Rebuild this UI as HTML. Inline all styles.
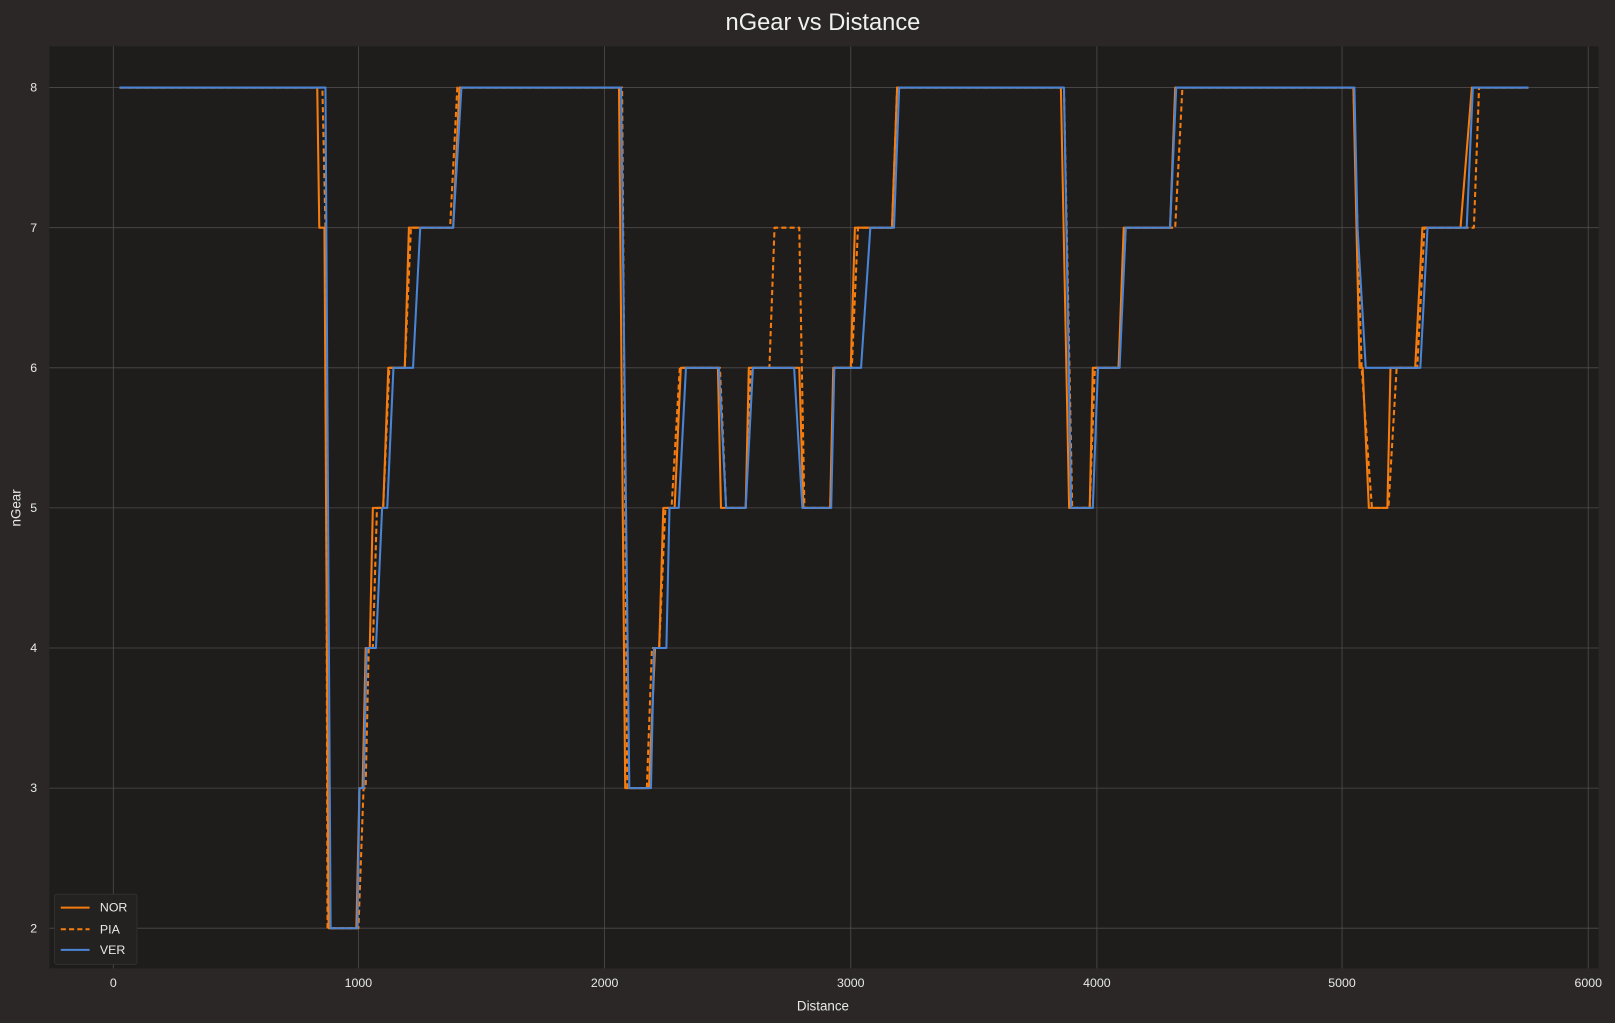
<!DOCTYPE html>
<html><head><meta charset="utf-8"><style>
html,body{margin:0;padding:0;background:#2a2726;}
svg{display:block;font-family:"Liberation Sans","DejaVu Sans",sans-serif;}
</style></head><body>
<svg width="1615" height="1023" viewBox="0 0 1568 993" preserveAspectRatio="none">
<rect x="0" y="0" width="1568" height="993" fill="#2a2726"/>
<text x="799" y="29" fill="#f0f0f0" font-size="23" text-anchor="middle">nGear vs Distance</text>
<rect x="48" y="45" width="1504" height="895" fill="#1e1d1c"/>
<g stroke="#4e4c4a" stroke-width="0.8">
<line x1="110" y1="45" x2="110" y2="940"/><line x1="348" y1="45" x2="348" y2="940"/>
<line x1="587" y1="45" x2="587" y2="940"/><line x1="826" y1="45" x2="826" y2="940"/>
<line x1="1065" y1="45" x2="1065" y2="940"/><line x1="1303" y1="45" x2="1303" y2="940"/>
<line x1="1542" y1="45" x2="1542" y2="940"/>
<line x1="48" y1="85" x2="1552" y2="85"/><line x1="48" y1="221" x2="1552" y2="221"/>
<line x1="48" y1="357" x2="1552" y2="357"/><line x1="48" y1="493" x2="1552" y2="493"/>
<line x1="48" y1="629" x2="1552" y2="629"/><line x1="48" y1="765" x2="1552" y2="765"/>
<line x1="48" y1="901" x2="1552" y2="901"/>
</g>
<g fill="#e8e8e8" font-size="12" text-anchor="middle">
<text x="110" y="958">0</text><text x="348" y="958">1000</text><text x="587" y="958">2000</text>
<text x="826" y="958">3000</text><text x="1065" y="958">4000</text><text x="1303" y="958">5000</text>
<text x="1542" y="958">6000</text>
<text x="799" y="981" font-size="13">Distance</text>
</g>
<g fill="#e8e8e8" font-size="12" text-anchor="end">
<text x="36" y="89">8</text><text x="36" y="225">7</text><text x="36" y="361">6</text>
<text x="36" y="497">5</text><text x="36" y="633">4</text><text x="36" y="769">3</text>
<text x="36" y="905">2</text>
</g>
<text x="20" y="493" fill="#e8e8e8" font-size="13" text-anchor="middle" transform="rotate(-90 20 493)">nGear</text>
<g fill="none" stroke-width="2" stroke-linejoin="round">
<polyline stroke="#f57c0f" points="116,85 308,85 310,221 315,221 319,901 346,901 349,765 352,765 355,629 359,629 362,493 372,493 377,357 393,357 397,221 440,221 446,85 601,85 607,765 630,765 636,629 640,629 644,493 655,493 661,357 697,357 700,493 724,493 727,357 776,357 780,493 806,493 809,357 826,357 830,221 866,221 871,85 1030,85 1038,493 1058,493 1061,357 1086,357 1091,221 1136,221 1141,85 1314,85 1317,221 1320,357 1323,357 1329,493 1347,493 1350,357 1374,357 1381,221 1418,221 1429,85 1484,85"/>
<polyline stroke="#f57c0f" stroke-dasharray="5,3" points="116,85 313,85 316,221 318,901 348,901 353,765 355,765 358,629 362,629 366,493 372,493 378,357 393,357 399,221 437,221 444,85 604,85 609,765 628,765 633,629 640,629 646,493 652,493 660,357 699,357 705,493 724,493 729,357 747,357 752,221 776,221 781,493 806,493 810,357 827,357 833,221 866,221 871,85 1033,85 1041,493 1058,493 1063,357 1086,357 1093,221 1141,221 1148,85 1314,85 1318,221 1322,357 1332,493 1348,493 1356,357 1376,357 1383,221 1431,221 1436,85 1484,85"/>
<polyline stroke="#4a84d4" points="116,85 316,85 321,901 347,901 349,765 353,765 356,629 365,629 371,493 376,493 382,357 401,357 408,221 440,221 448,85 603,85 611,765 632,765 635,629 647,629 650,493 659,493 666,357 698,357 705,493 724,493 731,357 771,357 779,493 807,493 810,357 836,357 845,221 868,221 873,85 1033,85 1040,493 1061,493 1066,357 1087,357 1093,221 1136,221 1142,85 1315,85 1318,221 1326,357 1379,357 1386,221 1424,221 1430,85 1484,85"/>
</g>
<rect x="53" y="868" width="80" height="68" fill="#242221" stroke="#333" stroke-width="0.8" rx="2"/>
<g stroke-width="2">
<line x1="59" y1="881" x2="87" y2="881" stroke="#f57c0f"/>
<line x1="59" y1="902" x2="87" y2="902" stroke="#f57c0f" stroke-dasharray="5,3"/>
<line x1="59" y1="922" x2="87" y2="922" stroke="#4a84d4"/>
</g>
<g fill="#e8e8e8" font-size="12">
<text x="97" y="885">NOR</text><text x="97" y="906">PIA</text><text x="97" y="926">VER</text>
</g>
</svg>
</body></html>
